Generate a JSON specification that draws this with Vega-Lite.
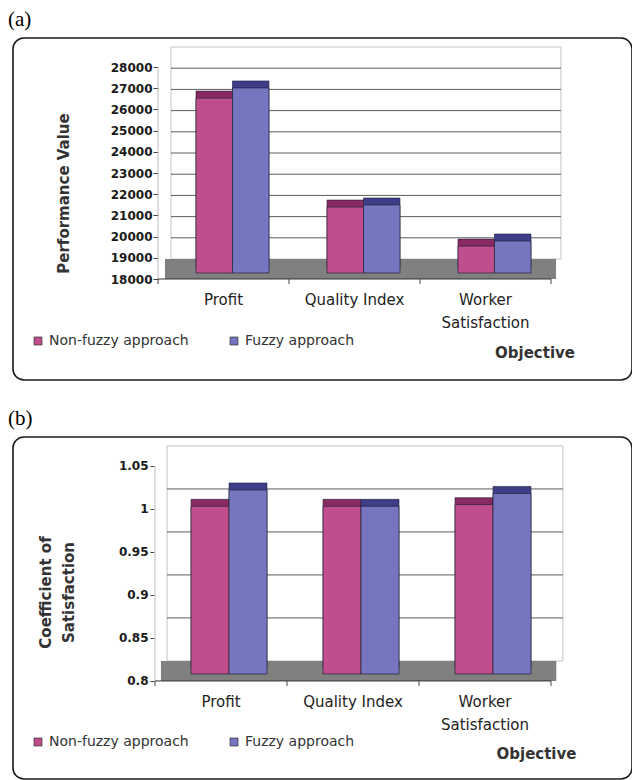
{
"$schema":"https://vega.github.io/schema/vega-lite/v6.json",
"background":"white",
"padding":{"left":7,"top":8,"right":0,"bottom":0},
"spacing":26,
"datasets":{
 "perf":[
  {"objective":"Profit","approach":"Non-fuzzy approach","value":26250},
  {"objective":"Profit","approach":"Fuzzy approach","value":26730},
  {"objective":"Quality Index","approach":"Non-fuzzy approach","value":21110},
  {"objective":"Quality Index","approach":"Fuzzy approach","value":21210},
  {"objective":"Worker Satisfaction","approach":"Non-fuzzy approach","value":19270},
  {"objective":"Worker Satisfaction","approach":"Fuzzy approach","value":19510}
 ],
 "coef":[
  {"objective":"Profit","approach":"Non-fuzzy approach","value":0.995},
  {"objective":"Profit","approach":"Fuzzy approach","value":1.014},
  {"objective":"Quality Index","approach":"Non-fuzzy approach","value":0.995},
  {"objective":"Quality Index","approach":"Fuzzy approach","value":0.995},
  {"objective":"Worker Satisfaction","approach":"Non-fuzzy approach","value":0.997},
  {"objective":"Worker Satisfaction","approach":"Fuzzy approach","value":1.010}
 ],
 "cats":[{"objective":"Profit"},{"objective":"Quality Index"},{"objective":"Worker Satisfaction"}],
 "gridA":[{"v":19000},{"v":20000},{"v":21000},{"v":22000},{"v":23000},{"v":24000},{"v":25000},{"v":26000},{"v":27000}],
 "gridB":[{"v":0.85},{"v":0.9},{"v":0.95},{"v":1.0}],
 "one":[{"k":1}]
},
"resolve":{"scale":{"x":"independent","y":"independent","xOffset":"independent","color":"independent"},"legend":{"color":"independent"},"axis":{"x":"independent","y":"independent"}},
"vconcat":[
 {
  "title":{"text":"(a)"},
  "width":619,"height":342,
  "resolve":{"scale":{"y":"independent"}},
  "layer":[
   {"data":{"name":"one"},"mark":{"type":"rect","fill":"white","fillOpacity":0,"stroke":"#C4C4C4","strokeWidth":1},
    "encoding":{
     "x":{"datum":"Profit","type":"nominal","bandPosition":0.099,"axis":null,"scale":{"domain":["Profit","Quality Index","Worker Satisfaction"],"paddingInner":0,"paddingOuter":0.8626,"align":0.6416}},
     "x2":{"datum":"Worker Satisfaction","bandPosition":1.076},
     "y":{"datum":18000,"type":"quantitative","scale":{"domain":[12293,28425],"nice":false,"zero":false},"axis":null},
     "y2":{"datum":28000}}},
   {"data":{"name":"gridA"},"mark":{"type":"rule","color":"#5c5c5c","strokeWidth":1},
    "encoding":{
     "x":{"datum":"Profit","type":"nominal","bandPosition":0.099,"axis":null},
     "x2":{"datum":"Worker Satisfaction","bandPosition":1.076},
     "y":{"field":"v","type":"quantitative","scale":{"domain":[12293,28425],"nice":false,"zero":false},"axis":null}}},
   {"data":{"name":"one"},"mark":{"type":"rect","fill":"#808080"},
    "encoding":{
     "x":{"datum":"Profit","type":"nominal","bandPosition":0.053,"axis":null},
     "x2":{"datum":"Worker Satisfaction","bandPosition":1.038},
     "y":{"datum":18000,"type":"quantitative","scale":{"domain":[13236,29368],"nice":false,"zero":false},"axis":null},
     "y2":{"datum":18943}}},
   {"data":{"name":"one"},"mark":{"type":"rule","color":"#BDBDBD","strokeWidth":1},
    "encoding":{
     "x":{"datum":"Profit","type":"nominal","bandPosition":0,"axis":null},
     "y":{"datum":18000,"type":"quantitative","scale":{"domain":[13236,29368],"nice":false,"zero":false},
      "axis":{"values":[18000,19000,20000,21000,22000,23000,24000,25000,26000,27000,28000],"labelExpr":"'' + datum.value","offset":-145,"domain":false,"grid":false,"ticks":true,"tickSize":5,"tickColor":"#444","labelFont":"DejaVu Sans","labelFontWeight":"bold","labelFontSize":12,"labelColor":"#1a1a1a","labelPadding":1,"labelFlush":false,"labelOverlap":false,
       "title":"Performance Value","titleFont":"DejaVu Sans","titleFontSize":15,"titleFontWeight":"bold","titleColor":"#333","titleX":-90,"titleY":155,"titleAngle":-90,"titleBaseline":"alphabetic","titleAlign":"center"}},
     "y2":{"datum":28000}}},
   {"data":{"name":"one"},"mark":{"type":"rule","color":"#333","strokeWidth":1},
    "encoding":{
     "x":{"datum":"Profit","type":"nominal","bandPosition":0,"axis":null},
     "x2":{"datum":"Worker Satisfaction","bandPosition":1},
     "y":{"datum":18000,"type":"quantitative","scale":{"domain":[13236,29368],"nice":false,"zero":false},"axis":null}}},
   {"data":{"name":"cats"},"mark":{"type":"rule","color":"#444","strokeWidth":1},
    "encoding":{
     "x":{"field":"objective","type":"nominal","bandPosition":0,"axis":null},
     "y":{"datum":18000,"type":"quantitative","scale":{"domain":[13236,29368],"nice":false,"zero":false},"axis":null},
     "y2":{"datum":17764}}},
   {"data":{"name":"one"},"mark":{"type":"rule","color":"#444","strokeWidth":1},
    "encoding":{
     "x":{"datum":"Worker Satisfaction","type":"nominal","bandPosition":1,"axis":null},
     "y":{"datum":18000,"type":"quantitative","scale":{"domain":[13236,29368],"nice":false,"zero":false},"axis":null},
     "y2":{"datum":17764}}},
   {"data":{"name":"cats"},"transform":[{"filter":"datum.objective != 'Worker Satisfaction'"}],
    "mark":{"type":"text","font":"DejaVu Sans","fontSize":15,"color":"#222","baseline":"alphabetic","align":"center"},
    "encoding":{
     "x":{"field":"objective","type":"nominal","axis":null},
     "y":{"datum":16774,"type":"quantitative","scale":{"domain":[13236,29368],"nice":false,"zero":false},"axis":null},
     "text":{"field":"objective"}}},
   {"data":{"name":"cats"},"transform":[{"filter":"datum.objective == 'Worker Satisfaction'"}],
    "mark":{"type":"text","font":"DejaVu Sans","fontSize":15,"color":"#222","baseline":"alphabetic","align":"center","lineBreak":" ","lineHeight":23},
    "encoding":{
     "x":{"field":"objective","type":"nominal","axis":null},
     "y":{"datum":16774,"type":"quantitative","scale":{"domain":[13236,29368],"nice":false,"zero":false},"axis":null},
     "text":{"field":"objective"}}},
   {"data":{"name":"one"},
    "mark":{"type":"text","text":"Objective","font":"DejaVu Sans","fontSize":15,"fontWeight":"bold","color":"#333","baseline":"alphabetic","align":"center"},
    "encoding":{
     "x":{"datum":"Worker Satisfaction","type":"nominal","bandPosition":0.878,"axis":null},
     "y":{"datum":14274,"type":"quantitative","scale":{"domain":[13236,29368],"nice":false,"zero":false},"axis":null}}},
   {"data":{"name":"perf"},"mark":{"type":"bar","stroke":"#22223a","strokeWidth":0.6},
    "encoding":{
     "x":{"field":"objective","type":"nominal","axis":null},
     "xOffset":{"field":"approach","type":"nominal","scale":{"domain":["Non-fuzzy approach","Fuzzy approach"],"paddingInner":0,"paddingOuter":0.7945,"align":0.655}},
     "y":{"field":"value","type":"quantitative","scale":{"domain":[12623,28755],"nice":false,"zero":false},"axis":null},
     "y2":{"datum":18000},
     "fill":{"condition":{"test":"datum.approach == 'Non-fuzzy approach'","value":"#8A2A62"},"value":"#3E3E88"}}},
   {"data":{"name":"perf"},"mark":{"type":"bar","stroke":"#22223a","strokeWidth":0.7},
    "encoding":{
     "x":{"field":"objective","type":"nominal","axis":null},
     "xOffset":{"field":"approach","type":"nominal","scale":{"domain":["Non-fuzzy approach","Fuzzy approach"],"paddingInner":0,"paddingOuter":0.7945,"align":0.569}},
     "y":{"field":"value","type":"quantitative","scale":{"domain":[12953,29085],"nice":false,"zero":false},"axis":null},
     "y2":{"datum":18000},
     "color":{"field":"approach","type":"nominal","scale":{"domain":["Non-fuzzy approach","Fuzzy approach"],"range":["#C14E8C","#7676C0"]},
      "legend":{"orient":"none","legendX":18,"legendY":296,"direction":"horizontal","title":null,"symbolType":"square","symbolSize":64,"symbolStrokeColor":"#333","symbolStrokeWidth":0.7,"labelFont":"DejaVu Sans","labelFontSize":14,"labelColor":"#333","labelOffset":4,"columnPadding":38}}}}
  ]
 },
 {
  "title":{"text":"(b)"},
  "width":619,"height":342,
  "resolve":{"scale":{"y":"independent"}},
  "layer":[
   {"data":{"name":"one"},"mark":{"type":"rect","fill":"white","fillOpacity":0,"stroke":"#C4C4C4","strokeWidth":1},
    "encoding":{
     "x":{"datum":"Profit","type":"nominal","bandPosition":0.091,"axis":null,"scale":{"domain":["Profit","Quality Index","Worker Satisfaction"],"paddingInner":0,"paddingOuter":0.8447,"align":0.6368}},
     "x2":{"datum":"Worker Satisfaction","bandPosition":1.09},
     "y":{"datum":0.8,"type":"quantitative","scale":{"domain":[0.6627,1.0604],"nice":false,"zero":false},"axis":null},
     "y2":{"datum":1.05}}},
   {"data":{"name":"gridB"},"mark":{"type":"rule","color":"#5c5c5c","strokeWidth":1},
    "encoding":{
     "x":{"datum":"Profit","type":"nominal","bandPosition":0.091,"axis":null},
     "x2":{"datum":"Worker Satisfaction","bandPosition":1.09},
     "y":{"field":"v","type":"quantitative","scale":{"domain":[0.6627,1.0604],"nice":false,"zero":false},"axis":null}}},
   {"data":{"name":"one"},"mark":{"type":"rect","fill":"#808080"},
    "encoding":{
     "x":{"datum":"Profit","type":"nominal","bandPosition":0.045,"axis":null},
     "x2":{"datum":"Worker Satisfaction","bandPosition":1.04},
     "y":{"datum":0.8,"type":"quantitative","scale":{"domain":[0.686,1.0837],"nice":false,"zero":false},"axis":null},
     "y2":{"datum":0.8233}}},
   {"data":{"name":"one"},"mark":{"type":"rule","color":"#BDBDBD","strokeWidth":1},
    "encoding":{
     "x":{"datum":"Profit","type":"nominal","bandPosition":0,"axis":null},
     "y":{"datum":0.8,"type":"quantitative","scale":{"domain":[0.686,1.0837],"nice":false,"zero":false},
      "axis":{"values":[0.8,0.85,0.9,0.95,1,1.05],"labelExpr":"'' + datum.value","offset":-141,"domain":false,"grid":false,"ticks":true,"tickSize":4,"tickColor":"#444","labelFont":"DejaVu Sans","labelFontWeight":"bold","labelFontSize":12,"labelColor":"#1a1a1a","labelPadding":2,"labelFlush":false,"labelOverlap":false,
       "title":["Coefficient of","Satisfaction"],"titleLineHeight":23,"titleFont":"DejaVu Sans","titleFontSize":15,"titleFontWeight":"bold","titleColor":"#333","titleX":-104,"titleY":155,"titleAngle":-90,"titleBaseline":"alphabetic","titleAlign":"center"}},
     "y2":{"datum":1.05}}},
   {"data":{"name":"one"},"mark":{"type":"rule","color":"#333","strokeWidth":1},
    "encoding":{
     "x":{"datum":"Profit","type":"nominal","bandPosition":0,"axis":null},
     "x2":{"datum":"Worker Satisfaction","bandPosition":1},
     "y":{"datum":0.8,"type":"quantitative","scale":{"domain":[0.686,1.0837],"nice":false,"zero":false},"axis":null}}},
   {"data":{"name":"cats"},"mark":{"type":"rule","color":"#444","strokeWidth":1},
    "encoding":{
     "x":{"field":"objective","type":"nominal","bandPosition":0,"axis":null},
     "y":{"datum":0.8,"type":"quantitative","scale":{"domain":[0.686,1.0837],"nice":false,"zero":false},"axis":null},
     "y2":{"datum":0.7942}}},
   {"data":{"name":"one"},"mark":{"type":"rule","color":"#444","strokeWidth":1},
    "encoding":{
     "x":{"datum":"Worker Satisfaction","type":"nominal","bandPosition":1,"axis":null},
     "y":{"datum":0.8,"type":"quantitative","scale":{"domain":[0.686,1.0837],"nice":false,"zero":false},"axis":null},
     "y2":{"datum":0.7942}}},
   {"data":{"name":"cats"},"transform":[{"filter":"datum.objective != 'Worker Satisfaction'"}],
    "mark":{"type":"text","font":"DejaVu Sans","fontSize":15,"color":"#222","baseline":"alphabetic","align":"center"},
    "encoding":{
     "x":{"field":"objective","type":"nominal","axis":null},
     "y":{"datum":0.7697,"type":"quantitative","scale":{"domain":[0.686,1.0837],"nice":false,"zero":false},"axis":null},
     "text":{"field":"objective"}}},
   {"data":{"name":"cats"},"transform":[{"filter":"datum.objective == 'Worker Satisfaction'"}],
    "mark":{"type":"text","font":"DejaVu Sans","fontSize":15,"color":"#222","baseline":"alphabetic","align":"center","lineBreak":" ","lineHeight":23},
    "encoding":{
     "x":{"field":"objective","type":"nominal","axis":null},
     "y":{"datum":0.7697,"type":"quantitative","scale":{"domain":[0.686,1.0837],"nice":false,"zero":false},"axis":null},
     "text":{"field":"objective"}}},
   {"data":{"name":"one"},
    "mark":{"type":"text","text":"Objective","font":"DejaVu Sans","fontSize":15,"fontWeight":"bold","color":"#333","baseline":"alphabetic","align":"center"},
    "encoding":{
     "x":{"datum":"Worker Satisfaction","type":"nominal","bandPosition":0.89,"axis":null},
     "y":{"datum":0.7093,"type":"quantitative","scale":{"domain":[0.686,1.0837],"nice":false,"zero":false},"axis":null}}},
   {"data":{"name":"coef"},"mark":{"type":"bar","stroke":"#22223a","strokeWidth":0.6},
    "encoding":{
     "x":{"field":"objective","type":"nominal","axis":null},
     "xOffset":{"field":"approach","type":"nominal","scale":{"domain":["Non-fuzzy approach","Fuzzy approach"],"paddingInner":0,"paddingOuter":0.737,"align":0.643}},
     "y":{"field":"value","type":"quantitative","scale":{"domain":[0.6698,1.0675],"nice":false,"zero":false},"axis":null},
     "y2":{"datum":0.8},
     "fill":{"condition":{"test":"datum.approach == 'Non-fuzzy approach'","value":"#8A2A62"},"value":"#3E3E88"}}},
   {"data":{"name":"coef"},"mark":{"type":"bar","stroke":"#22223a","strokeWidth":0.7},
    "encoding":{
     "x":{"field":"objective","type":"nominal","axis":null},
     "xOffset":{"field":"approach","type":"nominal","scale":{"domain":["Non-fuzzy approach","Fuzzy approach"],"paddingInner":0,"paddingOuter":0.737,"align":0.554}},
     "y":{"field":"value","type":"quantitative","scale":{"domain":[0.6779,1.0756],"nice":false,"zero":false},"axis":null},
     "y2":{"datum":0.8},
     "color":{"field":"approach","type":"nominal","scale":{"domain":["Non-fuzzy approach","Fuzzy approach"],"range":["#C14E8C","#7676C0"]},
      "legend":{"orient":"none","legendX":18,"legendY":298,"direction":"horizontal","title":null,"symbolType":"square","symbolSize":64,"symbolStrokeColor":"#333","symbolStrokeWidth":0.7,"labelFont":"DejaVu Sans","labelFontSize":14,"labelColor":"#333","labelOffset":4,"columnPadding":38}}}}
  ]
 }
],
"config":{
 "view":{"stroke":"#1a1a1a","strokeWidth":1.6,"cornerRadius":11,"fill":"white"},
 "title":{"anchor":"start","frame":"group","dx":-5,"font":"Liberation Serif","fontSize":21,"fontWeight":"normal","color":"#000","offset":8}
}
}
